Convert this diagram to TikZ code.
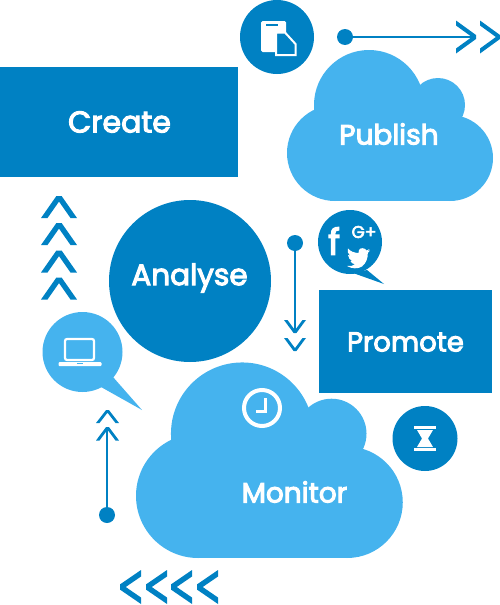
\documentclass[tikz,border=0pt]{standalone}
\usepackage{fontspec}
\setmainfont{Poppins}
\newfontfamily\labfont{Poppins}[FakeBold=3.5]
\definecolor{dk}{HTML}{0081C3}
\definecolor{lt}{HTML}{45B3EE}
\tikzset{
  x=1pt,y=-1pt,
  box/.style={rectangle,fill=dk,inner sep=0pt,outer sep=0pt,text=white},
  disc/.style={circle,fill=dk,inner sep=0pt,outer sep=0pt,text=white},
  bubble/.style={circle,fill=lt,inner sep=0pt,outer sep=0pt},
  dot/.style={circle,fill=dk,minimum size=16pt,inner sep=0pt,outer sep=0pt},
  lab/.style={text=white,font=\labfont\fontsize{#1}{30}\selectfont,inner sep=0pt},
  lab/.default=28,
  link/.style={draw=dk,line width=1.8pt},
  pics/cloudshape/.style={code={
    \fill[lt] (48,-48) circle[radius=48];
    \fill[lt] (163,-43) circle[radius=43];
    \fill[lt] (82,-96) circle[radius=55];
    \fill[lt] (151,-96) circle[radius=27];
    \fill[lt] (48,-80) rectangle (163,0);
  }},
  pics/chev/.style n args={3}{code={
    \pgfmathsetmacro{\ca}{0.4*#3}
    \pgfmathsetmacro{\ci}{#2*(#3-\ca)/(#1-\ca)}
    \fill[dk] (-#1,#2) -- (-\ca,0) -- (\ca,0) -- (#1,#2) -- (#1-#3,#2) -- (0,\ci) -- (-#1+#3,#2) -- cycle;
  }}
}
\begin{document}
\begin{tikzpicture}
\useasboundingbox (0,0) rectangle (500,605);
% clouds
\pic at (287,201) {cloudshape};
\pic[scale=1.295] at (136,558) {cloudshape};
% boxes and discs
\node[box,minimum width=238pt,minimum height=110pt] (create) at (119,122) {};
\node[box,minimum width=173pt,minimum height=103pt] (promote) at (405.5,341.5) {};
\node[disc,minimum size=162pt] (analyse) at (190,281) {};
\node[disc,minimum size=74pt] (docs) at (277,37) {};
\node[disc,minimum size=65pt] (hour) at (425,438.5) {};
% bubbles
\fill[dk] (353,273) -- (384,284) -- (367,270) -- cycle;
\node[disc,minimum size=64pt] (social) at (350,242) {};
\fill[lt] (101,387) -- (142,410) -- (113,377) -- cycle;
\node[bubble,minimum size=80pt] (laptop) at (82.5,352) {};
% labels
\node[lab=30] (tcreate) at (119.5,122) {Create};
\node[lab=28] (tpublish) at (389,134) {Publish};
\node[lab=29.5] (tanalyse) at (189.5,278) {Analyse};
\node[lab=27.5] (tpromote) at (405.5,342) {Promote};
\node[lab=28] (tmonitor) at (294.5,492) {Monitor};
% connectors
\node[dot] (d1) at (345,37) {};
\coordinate (e1) at (474,37);
\draw[link] (d1) -- (e1);
\pic at (476,37) [rotate=-90] {chev={16.5}{20}{5}};
\pic at (500,37) [rotate=-90] {chev={16.5}{20}{5}};
\node[dot] (d2) at (295,243) {};
\coordinate (e2) at (295,332);
\draw[link] (d2) -- (e2);
\pic at (295,333) [rotate=180] {chev={11}{13}{3.5}};
\pic at (295,351) [rotate=180] {chev={11}{13}{3.5}};
\node[dot] (d3) at (107,515) {};
\coordinate (e3) at (107,428);
\draw[link] (d3) -- (e3);
\pic at (107.5,410) {chev={11.5}{13}{3.5}};
\pic at (107.5,427) {chev={11.5}{13.5}{3.5}};
% up chevrons
\pic at (59,196) {chev={18}{22}{6.5}};
\pic at (59,223) {chev={18}{22}{6.5}};
\pic at (59,250.5) {chev={18}{22}{6.5}};
\pic at (59,277.5) {chev={18}{22}{6.5}};
% left chevrons
\pic at (120,587) [rotate=90] {chev={17}{21}{6.5}};
\pic at (146,587) [rotate=90] {chev={17}{21}{6.5}};
\pic at (171,587) [rotate=90] {chev={17}{21}{6.5}};
\pic at (197,587) [rotate=90] {chev={17}{21}{6.5}};
% clock
\draw[white,line width=4pt] (262,408) circle[radius=18];
\draw[white,line width=2.6pt] (265.5,398) -- (265.5,411.5) -- (256,411.5);
% doc icon
\fill[white,rounded corners=1.5pt] (261,21) rectangle (286,52);
\fill[dk] (266,23.5) rectangle (278,26);
\draw[white,line width=2pt,fill=dk] (276,32.5) -- (285,32.5) -- (295.5,44) -- (295.5,55) -- (276,55) -- cycle;
% hourglass
\fill[white] (414,426) rectangle (436,429);
\fill[white] (414,448) rectangle (436,451);
\fill[white] (417,430) -- (433,430) -- (428,438.5) -- (433,447) -- (417,447) -- (422,438.5) -- cycle;
% laptop
\draw[white,line width=2.2pt,rounded corners=2pt] (65,339) rectangle (94,360);
\fill[white,rounded corners=1pt] (58.5,362) rectangle (101.5,366);
\fill[lt] (77,363) rectangle (83,364);
% social
\node[text=white,font=\labfont\fontsize{36}{36}\selectfont,inner sep=0pt] (ff) at (334,241) {f};
\node[text=white,font=\labfont\fontsize{17}{17}\selectfont,inner sep=0pt] (gp) at (364,232) {G+};
\fill[white] (369.5,249) -- (366.5,250.5) .. controls (365,247.5) and (360,247.5) .. (359,250) .. controls (358.5,251) and (358.5,252) .. (358.5,253) .. controls (354,253) and (350,251) .. (348,248.5) .. controls (347,251) and (348,254) .. (350,255.5) -- (348,255) .. controls (348.5,258) and (350,260) .. (352,261) -- (350.5,261.3) .. controls (351.5,263) and (353,264) .. (355,264.2) .. controls (353,266) and (350,266.5) .. (347,266) .. controls (352,269) and (358,269) .. (362,266.5) .. controls (366,263.5) and (368,258) .. (367.8,253) -- (370,250.5) -- (367.5,251) -- cycle;
\end{tikzpicture}
\end{document}
